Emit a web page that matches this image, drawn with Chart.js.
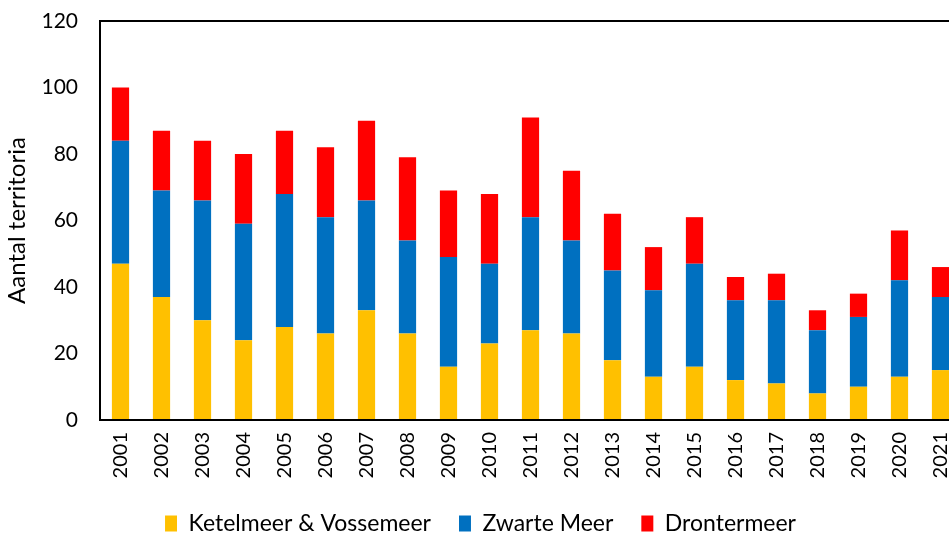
<!DOCTYPE html>
<html>
<head>
<meta charset="utf-8">
<script src="https://cdn.jsdelivr.net/npm/chart.js@4/dist/chart.umd.min.js"></script>
<style>
  html, body { margin: 0; padding: 0; background: #fff; overflow: hidden; }
  #wrap { width: 965px; height: 545px; position: relative; }
</style>
</head>
<body>
<div id="wrap"><canvas id="chart"></canvas></div>
<script>
const years = ["2001","2002","2003","2004","2005","2006","2007","2008","2009","2010","2011",
               "2012","2013","2014","2015","2016","2017","2018","2019","2020","2021"];
const ketelmeer = [47, 37, 30, 24, 28, 26, 33, 26, 16, 23, 27, 26, 18, 13, 16, 12, 11, 8, 10, 13, 15];
const zwarteMeer = [37, 32, 36, 35, 40, 35, 33, 28, 33, 24, 34, 28, 27, 26, 31, 24, 25, 19, 21, 29, 22];
const drontermeer = [16, 18, 18, 21, 19, 21, 24, 25, 20, 21, 30, 21, 17, 13, 14, 7, 8, 6, 7, 15, 9];
const yTicks = [0, 20, 40, 60, 80, 100, 120];

const font = "Lato, 'Liberation Sans', sans-serif";

// plot area frame (top edge; the right edge falls outside the window)
const plotFrame = {
    id: "plotFrame",
    afterDatasetsDraw(chart) {
        const { ctx, chartArea } = chart;
        ctx.save();
        ctx.strokeStyle = "#000";
        ctx.lineWidth = 2;
        ctx.strokeRect(chartArea.left, chartArea.top, chartArea.right - chartArea.left, chartArea.bottom - chartArea.top);
        ctx.restore();
    }
};

const ctx = document.getElementById("chart").getContext("2d");
new Chart(ctx, {
    type: "bar",
    data: {
        labels: years,
        datasets: [
            { label: "Ketelmeer & Vossemeer", data: ketelmeer, backgroundColor: "#FFC000" },
            { label: "Zwarte Meer", data: zwarteMeer, backgroundColor: "#0070C0" },
            { label: "Drontermeer", data: drontermeer, backgroundColor: "#FF0000" }
        ]
    },
    plugins: [plotFrame],
    options: {
        responsive: true,
        maintainAspectRatio: false,
        animation: false,
        layout: { padding: { top: 21, right: 4, left: 0, bottom: 0 } },
        datasets: { bar: { categoryPercentage: 1, barPercentage: 0.42 } },
        plugins: {
            tooltip: { enabled: false },
            legend: {
                position: "bottom",
                labels: {
                    color: "#000",
                    font: { family: font, size: 23 },
                    boxWidth: 12,
                    boxHeight: 16,
                    padding: 28
                }
            }
        },
        scales: {
            x: {
                stacked: true,
                grid: { display: false, drawTicks: false },
                border: { color: "#000", width: 2 },
                ticks: {
                    color: "#000",
                    font: { family: font, size: 20 },
                    minRotation: 90,
                    maxRotation: 90,
                    padding: 12,
                    autoSkip: false
                },
                afterFit: (scale) => { scale.height = 64; scale.paddingLeft = 0; scale.paddingRight = 0; }
            },
            y: {
                stacked: true,
                min: 0,
                max: 120,
                grid: { display: false, drawTicks: false },
                border: { color: "#000", width: 2 },
                afterBuildTicks: (scale) => { scale.ticks = yTicks.map(v => ({ value: v })); },
                ticks: {
                    color: "#000",
                    font: { family: font, size: 21 },
                    padding: 22
                },
                title: {
                    display: true,
                    text: "Aantal territoria",
                    color: "#000",
                    font: { family: font, size: 24 },
                    padding: { top: 3, bottom: 0 }
                },
                afterFit: (scale) => { scale.width = 100; scale.paddingTop = 0; scale.paddingBottom = 0; }
            }
        }
    }
});
</script>
</body>
</html>
